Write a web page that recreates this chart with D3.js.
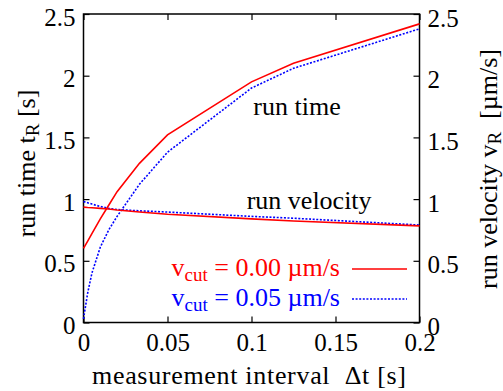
<!DOCTYPE html>
<html>
<head>
<meta charset="utf-8">
<script src="https://cdn.jsdelivr.net/npm/d3@7"></script>
<style>
  body { margin: 0; background: #fff; }
  svg text { font-family: "Liberation Serif", "Times New Roman", serif; }
</style>
</head>
<body>
<div id="chart"></div>
<script>
// measurement intervals (s)
const intervals = [0, 0.0025, 0.005, 0.01, 0.015, 0.02, 0.0333, 0.05, 0.1, 0.125, 0.2];
// run time t_R [s]
const runTimeCut000 = [0.60, 0.66, 0.72, 0.84, 0.95, 1.06, 1.29, 1.52, 1.95, 2.10, 2.42];
const runTimeCut005 = [0.03, 0.24, 0.40, 0.61, 0.75, 0.86, 1.12, 1.38, 1.90, 2.06, 2.38];
// run velocity v_R [um/s]
const runVelCut000 = [0.935, 0.932, 0.93, 0.925, 0.92, 0.912, 0.895, 0.877, 0.84, 0.822, 0.783];
const runVelCut005 = [0.98, 0.97, 0.96, 0.94, 0.925, 0.915, 0.905, 0.895, 0.86, 0.845, 0.79];

const xTicks = [0, 0.05, 0.1, 0.15, 0.2];
const yTicks = [0, 0.5, 1, 1.5, 2, 2.5];

var W = 503, H = 391;
var margin = { top: 14, right: 83.5, bottom: 68.5, left: 83.5 },
    width = W - margin.left - margin.right,
    height = H - margin.top - margin.bottom;

var svg = d3.select("#chart").append("svg")
    .attr("width", W)
    .attr("height", H)
    .append("g")
    .attr("transform", `translate(${margin.left},${margin.top})`);

var x = d3.scaleLinear().domain([0, 0.2]).range([0, width]);
var y = d3.scaleLinear().domain([0, 2.5]).range([height, 0]);   // left: run time
var y2 = d3.scaleLinear().domain([0, 2.5]).range([height, 0]);  // right: run velocity

var fmt = d => d3.format("")(+d.toFixed(2));

// axes with inward ticks
var gx = svg.append("g").attr("transform", `translate(0,${height})`)
    .call(d3.axisBottom(x).tickValues(xTicks).tickFormat(fmt).tickSizeInner(-6).tickSizeOuter(0).tickPadding(11));
svg.append("g")
    .call(d3.axisTop(x).tickValues(xTicks).tickFormat("").tickSizeInner(-6).tickSizeOuter(0));
var gy = svg.append("g")
    .call(d3.axisLeft(y).tickValues(yTicks).tickFormat(fmt).tickSizeInner(-6).tickSizeOuter(0).tickPadding(8));
var gy2 = svg.append("g").attr("transform", `translate(${width},0)`)
    .call(d3.axisRight(y2).tickValues(yTicks).tickFormat(fmt).tickSizeInner(-6).tickSizeOuter(0).tickPadding(8));

svg.selectAll(".domain").remove();
svg.selectAll(".tick line").attr("stroke", "#000").attr("stroke-width", 1.2);
svg.selectAll(".tick text").attr("font-size", 25).attr("fill", "#000")
    .attr("font-family", "Liberation Serif, Times New Roman, serif");
gy.selectAll(".tick text").attr("dy", "0.44em");
gy2.selectAll(".tick text").attr("dy", "0.48em");

// frame
svg.append("rect")
    .attr("width", width).attr("height", height)
    .attr("fill", "none").attr("stroke", "#000").attr("stroke-width", 1.5);

// lines
var tLine = d3.line().x((d, i) => x(intervals[i])).y(d => y(d));
var vLine = d3.line().x((d, i) => x(intervals[i])).y(d => y2(d));

var series = [
    { data: runVelCut005, gen: vLine, color: "#0000ff", dash: "2,1.6" },
    { data: runTimeCut005, gen: tLine, color: "#0000ff", dash: "2,1.6" },
    { data: runVelCut000, gen: vLine, color: "#ff0000", dash: null },
    { data: runTimeCut000, gen: tLine, color: "#ff0000", dash: null },
];
series.forEach(s => {
    svg.append("path")
        .datum(s.data)
        .attr("fill", "none")
        .attr("stroke", s.color)
        .attr("stroke-width", 1.6)
        .attr("stroke-dasharray", s.dash)
        .attr("d", s.gen);
});

// annotations
svg.append("text").attr("x", 253.3 - margin.left).attr("y", 115 - margin.top)
    .attr("font-size", 26).text("run time");
svg.append("text").attr("x", 246.7 - margin.left).attr("y", 208.5 - margin.top)
    .attr("font-size", 26).text("run velocity");

// legend
var legend = [
    { label: "0.00 \u00b5m/s", color: "#ff0000", dash: null, y: 276 },
    { label: "0.05 \u00b5m/s", color: "#0000ff", dash: "2,1.6", y: 306 },
];
legend.forEach(l => {
    var t = svg.append("text")
        .attr("x", 340 - margin.left).attr("y", l.y - margin.top)
        .attr("text-anchor", "end").attr("font-size", 26).attr("fill", l.color);
    t.append("tspan").text("v");
    t.append("tspan").attr("font-size", 19).attr("dy", 5).text("cut");
    t.append("tspan").attr("dy", -5).text("\u00a0= " + l.label);
    svg.append("line")
        .attr("x1", 352 - margin.left).attr("x2", 407 - margin.left)
        .attr("y1", l.y - 7 - margin.top).attr("y2", l.y - 7 - margin.top)
        .attr("stroke", l.color).attr("stroke-width", 1.3)
        .attr("stroke-dasharray", l.dash);
});

// axis titles
var root = d3.select("#chart svg");
root.append("text").attr("x", 249).attr("y", 384)
    .attr("text-anchor", "middle").attr("font-size", 26)
    .attr("textLength", 314).attr("lengthAdjust", "spacing")
    .text("measurement interval \u00a0\u0394t [s]");

var lt = root.append("text").attr("transform", "translate(35,163.5) rotate(-90)")
    .attr("text-anchor", "middle").attr("font-size", 26);
lt.append("tspan").text("run time t");
lt.append("tspan").attr("font-size", 19).attr("dy", 4).text("R");
lt.append("tspan").attr("dy", -4).text(" [s]");

var rt = root.append("text").attr("transform", "translate(496.5,169) rotate(-90)")
    .attr("text-anchor", "middle").attr("font-size", 26);
rt.append("tspan").text("run velocity v");
rt.append("tspan").attr("font-size", 19).attr("dy", 4).text("R");
rt.append("tspan").attr("dy", -4).text("\u00a0 [\u00b5m/s]");
</script>
</body>
</html>
